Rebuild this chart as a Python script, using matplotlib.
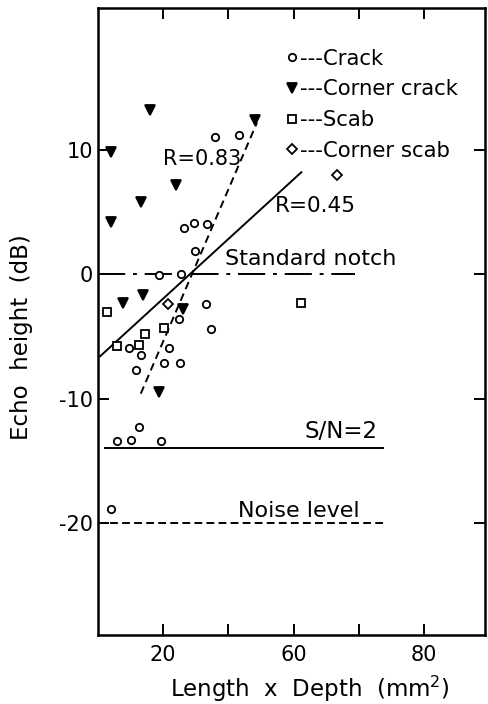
import matplotlib
matplotlib.use("Agg")
import matplotlib.pyplot as plt
from matplotlib.lines import Line2D

plt.rcParams['font.family'] = ['DejaVu Sans']
plt.rcParams['axes.unicode_minus'] = False

# ---- data ----
crack_x = [36.0, 43.4, 26.5, 29.3, 33.4, 29.8, 18.8, 25.4, 33.2, 24.9, 34.7, 9.5, 21.9,
           13.1, 20.1, 25.2, 11.5, 12.5, 5.7, 10.0, 19.2, 3.9]
crack_y = [11.0, 11.2, 3.75, 4.1, 4.0, 1.9, -0.1, 0.0, -2.4, -3.6, -4.4, -5.9, -5.9,
           -6.5, -7.1, -7.1, -7.7, -12.3, -13.4, -13.3, -13.4, -18.9]

corner_crack_x = [16.0, 48.3, 3.9, 24.0, 13.2, 3.9, 13.8, 7.5, 26.0, 18.8]
corner_crack_y = [13.2, 12.4, 9.8, 7.2, 5.8, 4.2, -1.7, -2.3, -2.8, -9.5]

scab_x = [2.7, 14.5, 20.3, 5.9, 12.6, 62.4]
scab_y = [-3.0, -4.8, -4.3, -5.8, -5.7, -2.3]

corner_scab_x = [21.4, 73.4]
corner_scab_y = [-2.4, 7.95]

# regression lines (end points)
fit_all_x = [0.6, 62.4]
fit_all_y = [-6.6, 8.2]
fit_crack_x = [13.1, 48.8]
fit_crack_y = [-9.6, 12.2]

# reference levels
notch_level = 0.0
notch_x = [0.0, 79.0]
sn_level = -14.0
sn_x = [2.2, 87.6]
noise_level = -20.0
noise_x = [0.0, 87.7]

xtick_pos = [20, 40, 60, 80, 100]
xtick_labels = ["20", "", "60", "", "80"]
ytick_pos = [10, 0, -10, -20]
ytick_labels = ["10", "0", "-10", "-20"]

legend_labels = ["---Crack", "---Corner crack", "---Scab", "---Corner scab"]

# ---- figure ----
fig = plt.figure(figsize=(4.88, 7.04), dpi=100)
ax = fig.add_axes([0.201, 0.098, 0.793, 0.8906])

ax.set_xlim(0, 118.8)
ax.set_ylim(-29.0, 21.4)

lw = 1.4
ax.plot(notch_x, [notch_level, notch_level], color='black', lw=lw,
        linestyle=(0, (14, 4, 2, 4)))
ax.plot(sn_x, [sn_level, sn_level], color='black', lw=lw)
ax.plot(noise_x, [noise_level, noise_level], color='black', lw=lw,
        linestyle=(0, (4, 2.2)))
ax.plot(fit_all_x, fit_all_y, color='black', lw=lw)
ax.plot(fit_crack_x, fit_crack_y, color='black', lw=lw, linestyle=(0, (4, 2.5)))

mk = dict(linestyle='none', color='black', markeredgewidth=1.3)
ax.plot(crack_x, crack_y, marker='o', markersize=5.3, markerfacecolor='white', **mk)
ax.plot(corner_crack_x, corner_crack_y, marker='v', markersize=7,
        markerfacecolor='black', **mk)
ax.plot(scab_x, scab_y, marker='s', markersize=5.6, markerfacecolor='white', **mk)
ax.plot(corner_scab_x, corner_scab_y, marker='D', markersize=5.3, markerfacecolor='white', **mk)

ax.text(39.0, 0.45, "Standard notch", fontsize=16, ha='left', va='bottom')
ax.text(63.5, -13.6, "S/N=2", fontsize=16.5, ha='left', va='bottom')
ax.text(42.8, -19.8, "Noise level", fontsize=16, ha='left', va='bottom')
ax.text(19.8, 8.5, "R=0.83", fontsize=15, ha='left', va='bottom')
ax.text(54.3, 4.7, "R=0.45", fontsize=15.5, ha='left', va='bottom')

handles = [
    Line2D([], [], marker='o', markersize=5.3, markerfacecolor='white', **mk),
    Line2D([], [], marker='v', markersize=6.5, markerfacecolor='black', **mk),
    Line2D([], [], marker='s', markersize=5.6, markerfacecolor='white', **mk),
    Line2D([], [], marker='D', markersize=5.3, markerfacecolor='white', **mk),
]
ax.legend(handles, legend_labels, loc='upper left', bbox_to_anchor=(0.484, 0.935),
          frameon=False, fontsize=15.3, handlelength=0.6, handletextpad=0.1,
          labelspacing=0.5, borderpad=0, borderaxespad=0)

ax.set_xticks(xtick_pos)
ax.set_xticklabels(xtick_labels)
ax.set_yticks(ytick_pos)
ax.set_yticklabels(ytick_labels)
ax.tick_params(axis='both', labelsize=15, width=1.4, length=8, direction='in',
               top=True, right=True)
ax.tick_params(axis='y', pad=3.5)
ax.tick_params(axis='x', pad=7)

for s in ax.spines.values():
    s.set_linewidth(1.8)

fig.text(310 / 488, 1 - 689 / 704, "Length  x  Depth  (mm$^2$)", fontsize=16.5,
         ha='center', va='center')
fig.text(22 / 488, 1 - 337 / 704, "Echo  height  (dB)", fontsize=16.5,
         ha='center', va='center', rotation=90)

fig.savefig("out.png", dpi=100)
